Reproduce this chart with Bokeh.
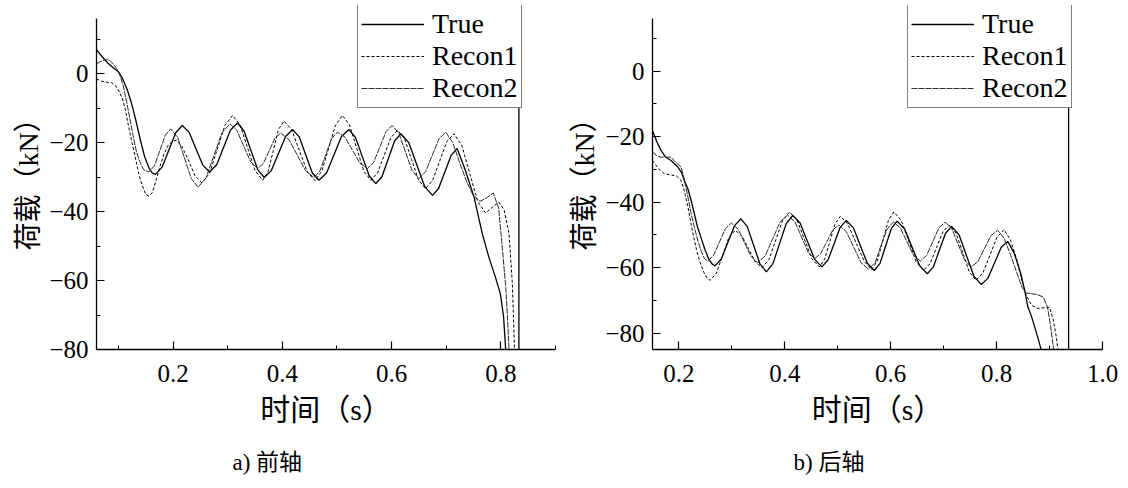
from bokeh.plotting import figure
from bokeh.layouts import row
from bokeh.models import (Range1d, SingleIntervalTicker, Legend, LegendItem, Title,
                          PrintfTickFormatter)
from bokeh.embed import file_html
from bokeh.resources import INLINE

SERIES_NAMES = ["True", "Recon1", "Recon2"]
X_LABEL = "时间（s）"
Y_LABEL = "荷载（kN）"
CAPTIONS = ["a) 前轴", "b) 后轴"]

# ---------------- a) front axle ----------------
front_true_t = [0.060, 0.070, 0.080, 0.090, 0.100, 0.108, 0.116, 0.124, 0.132, 0.140, 0.148, 0.156, 0.162, 0.168,
                0.180, 0.1925, 0.205, 0.217, 0.2295, 0.242, 0.2545, 0.267, 0.280, 0.2925, 0.305, 0.318,
                0.330, 0.3425, 0.355, 0.367, 0.380, 0.393, 0.406, 0.419, 0.431, 0.443, 0.455, 0.467,
                0.481, 0.4945, 0.508, 0.522, 0.534, 0.5465, 0.559, 0.571, 0.5825, 0.594, 0.6055, 0.617,
                0.6315, 0.646, 0.6605, 0.675, 0.686, 0.6975, 0.709, 0.720,
                0.735, 0.751, 0.766, 0.778, 0.790, 0.799, 0.805, 0.809, 0.812]
front_true = [7.0, 5.0, 3.2, 1.8, 0.6, -1.5, -4.5, -8.5, -13.5, -19.0, -24.0, -27.3, -28.8, -29.2,
              -27.1, -22.1, -17.1, -15.0, -17.0, -21.75, -26.5, -28.5, -26.4, -21.4, -16.4, -14.3,
              -16.6, -22.2, -27.8, -30.1, -28.1, -23.15, -18.2, -16.2, -18.3, -23.55, -28.8, -30.9,
              -28.8, -23.55, -18.3, -16.2, -18.5, -24.05, -29.6, -31.9, -29.8, -24.65, -19.5, -17.4,
              -20.0, -26.35, -32.7, -35.3, -33.3, -28.5, -23.7, -21.7,
              -28.0, -35.8, -46.4, -53.2, -59.0, -63.8, -70.5, -80.5, -100.0]

front_rec1_t = [0.060, 0.070, 0.080, 0.088, 0.095, 0.101, 0.107, 0.113, 0.119, 0.125, 0.132, 0.138, 0.144,
                0.150, 0.156, 0.162, 0.168, 0.175, 0.183, 0.192, 0.200, 0.206, 0.216, 0.228, 0.240, 0.253,
                0.267, 0.281, 0.295, 0.309, 0.3228, 0.3365, 0.3503, 0.364, 0.374, 0.3835, 0.393, 0.403,
                0.417, 0.4315, 0.446, 0.460, 0.4725, 0.485, 0.4975, 0.510, 0.523, 0.536, 0.549, 0.562,
                0.5743, 0.5865, 0.5988, 0.611, 0.6238, 0.6365, 0.6493, 0.662, 0.675, 0.688, 0.701, 0.714,
                0.7285, 0.743, 0.7575, 0.772, 0.784, 0.796, 0.806, 0.815, 0.821, 0.825, 0.828]
front_rec1 = [-1.5, -2.2, -2.5, -2.6, -3.5, -5.0, -7.0, -10.5, -15.5, -20.0, -25.0, -29.5, -32.5,
              -35.0, -35.5, -34.5, -31.5, -27.5, -23.5, -20.5, -19.6, -19.3, -21.0, -25.0, -29.5, -31.7,
              -28.8, -21.9, -15.0, -12.1, -14.85, -21.5, -28.15, -30.9, -28.4, -22.3, -16.2, -13.7,
              -16.2, -22.35, -28.5, -31.0, -28.2, -21.55, -14.9, -12.1, -14.85, -21.5, -28.15, -30.9,
              -28.8, -23.65, -18.5, -16.4, -18.9, -24.85, -30.8, -33.3, -31.0, -25.35, -19.7, -17.4,
              -20.8, -28.9, -37.0, -40.4, -38.8, -37.2, -39.5, -46.4, -60.9, -80.0, -100.0]

front_rec2_t = [0.060, 0.068, 0.076, 0.083, 0.090, 0.097, 0.103, 0.109, 0.115, 0.121, 0.127, 0.133, 0.139,
                0.146, 0.156, 0.166, 0.176, 0.186, 0.196, 0.2085, 0.221, 0.2335, 0.246,
                0.2605, 0.275, 0.2895, 0.304, 0.3168, 0.3295, 0.3423, 0.355, 0.3655, 0.376, 0.3865, 0.397,
                0.4123, 0.4275, 0.4428, 0.458, 0.4688, 0.4795, 0.4903, 0.501, 0.5148, 0.5285, 0.5423, 0.556,
                0.5673, 0.5785, 0.5898, 0.601, 0.6133, 0.6255, 0.6378, 0.650, 0.6623, 0.6745, 0.6868, 0.699,
                0.712, 0.725, 0.738, 0.750, 0.762, 0.774, 0.786, 0.796, 0.803, 0.809, 0.812, 0.815, 0.818]
front_rec2 = [2.9, 3.6, 4.1, 4.0, 3.0, 1.5, -0.5, -3.5, -8.0, -13.0, -18.0, -22.5, -25.5,
              -27.8, -28.5, -26.7, -22.25, -17.8, -16.0, -18.5, -24.45, -30.4, -32.9,
              -30.2, -23.7, -17.2, -14.5, -16.4, -21.0, -25.6, -27.5, -26.0, -22.35, -18.7, -17.2,
              -19.1, -23.65, -28.2, -30.1, -28.2, -23.5, -18.8, -16.9, -18.4, -22.2, -26.0, -27.5,
              -25.7, -21.25, -16.8, -15.0, -17.25, -22.7, -28.15, -30.4, -28.4, -23.65, -18.9, -16.9,
              -20.0, -26.0, -31.5, -35.5, -37.0, -36.0, -34.6, -39.0, -51.2, -62.0, -70.5, -80.0, -100.0]

front_end_t = 0.833

# ---------------- b) rear axle ----------------
rear_true_t = [0.150, 0.158, 0.166, 0.175, 0.185, 0.198, 0.205, 0.210, 0.217, 0.223, 0.229, 0.235, 0.242,
               0.249, 0.256, 0.262, 0.268, 0.280, 0.2925, 0.305, 0.317, 0.329, 0.341, 0.353, 0.365,
               0.3775, 0.390, 0.4025, 0.415, 0.4288, 0.4425, 0.4563, 0.470, 0.4815, 0.493, 0.5045, 0.516,
               0.5293, 0.5425, 0.5558, 0.569, 0.5798, 0.5905, 0.6013, 0.612, 0.6263, 0.6405, 0.6548, 0.669,
               0.6805, 0.692, 0.7035, 0.715, 0.729, 0.743, 0.757, 0.771, 0.7835, 0.796, 0.8085, 0.821,
               0.833, 0.845, 0.853, 0.859, 0.866, 0.872, 0.878, 0.884, 0.890]
rear_true = [-18.1, -21.5, -24.2, -26.3, -27.3, -29.3, -31.0, -33.4, -36.0, -39.5, -43.5, -47.6, -51.0,
             -54.5, -57.3, -58.8, -59.5, -57.4, -52.3, -47.2, -45.1, -47.5, -53.2, -58.9, -61.3,
             -58.8, -52.7, -46.6, -44.1, -46.4, -51.95, -57.5, -59.8, -57.7, -52.7, -47.7, -45.6,
             -47.8, -53.25, -58.7, -60.9, -58.7, -53.35, -48.0, -45.8, -48.2, -53.85, -59.5, -61.9,
             -59.8, -54.65, -49.5, -47.4, -50.0, -56.3, -62.6, -65.2, -63.3, -58.6, -53.9, -52.0,
             -55.5, -61.5, -67.0, -72.0, -75.0, -78.2, -81.5, -85.0, -95.0]

rear_rec1_t = [0.150, 0.160, 0.172, 0.185, 0.195, 0.204, 0.210, 0.217, 0.222, 0.227, 0.233, 0.240, 0.247,
               0.253, 0.259, 0.2708, 0.2825, 0.2943, 0.306, 0.3188, 0.3315, 0.3443, 0.357,
               0.370, 0.383, 0.396, 0.409, 0.423, 0.437, 0.451, 0.465, 0.475, 0.485, 0.495, 0.505,
               0.5188, 0.5345, 0.5503, 0.564, 0.5745, 0.585, 0.5955, 0.606, 0.620, 0.634, 0.648, 0.662,
               0.6743, 0.6865, 0.6988, 0.711, 0.7235, 0.736, 0.7485, 0.761, 0.7743, 0.7875, 0.8008, 0.814,
               0.826, 0.838, 0.848, 0.856, 0.866, 0.878, 0.890, 0.900, 0.907, 0.912, 0.916, 0.920]
rear_rec1 = [-27.3, -29.5, -31.3, -31.7, -32.0, -33.4, -36.5, -41.5, -46.0, -50.0, -54.5, -58.5, -61.5,
             -63.3, -63.9, -61.7, -56.25, -50.8, -48.6, -50.3, -54.3, -58.3, -60.0,
             -57.5, -51.5, -45.5, -43.0, -45.5, -51.4, -57.3, -59.8, -57.5, -52.05, -46.6, -44.3,
             -46.7, -52.45, -58.2, -60.6, -58.0, -51.8, -45.6, -43.0, -45.6, -51.9, -58.2, -60.8,
             -58.8, -53.9, -49.0, -47.0, -49.5, -55.45, -61.4, -63.9, -61.6, -56.15, -50.7, -48.4,
             -51.5, -57.5, -64.0, -68.5, -71.5, -72.5, -72.3, -72.1, -76.0, -80.5, -85.0, -95.0]

rear_rec2_t = [0.150, 0.158, 0.166, 0.175, 0.185, 0.195, 0.204, 0.210, 0.217, 0.223, 0.229, 0.236, 0.242,
               0.248, 0.254, 0.2653, 0.2765, 0.2878, 0.299, 0.3115, 0.324, 0.3365, 0.349,
               0.363, 0.377, 0.391, 0.405, 0.4188, 0.4315, 0.4443, 0.456, 0.4675, 0.479, 0.4905, 0.502,
               0.516, 0.530, 0.544, 0.558, 0.5708, 0.5815, 0.5933, 0.605, 0.6178, 0.6305, 0.6433, 0.656,
               0.6678, 0.6795, 0.6913, 0.703, 0.7153, 0.7275, 0.7398, 0.752, 0.7645, 0.777, 0.7895, 0.802,
               0.814, 0.826, 0.838, 0.848, 0.856, 0.866, 0.876, 0.888, 0.896, 0.902, 0.907, 0.911]
rear_rec2 = [-24.7, -25.8, -26.3, -26.2, -26.3, -28.0, -29.3, -33.0, -38.5, -43.5, -47.6, -52.0, -55.0,
             -57.2, -58.0, -56.3, -52.2, -48.1, -46.4, -48.2, -52.45, -56.7, -58.5,
             -56.4, -51.25, -46.1, -44.0, -45.9, -50.65, -55.4, -57.3, -55.8, -52.15, -48.5, -47.0,
             -49.0, -53.75, -58.5, -60.5, -58.4, -53.3, -48.2, -46.1, -47.8, -52.05, -56.3, -58.0,
             -56.3, -52.05, -47.8, -46.1, -48.1, -52.95, -57.8, -59.8, -58.2, -54.2, -50.2, -48.6,
             -51.0, -56.0, -61.5, -66.0, -67.8, -68.0, -68.2, -69.0, -72.0, -78.0, -84.3, -95.0]

rear_end_t = 0.936

# visible ranges (frame reaches up to the legend) and drawn axis extents
front_x_range = (0.06, 0.90)
front_y_range = (-80, 19.8)
front_y_axis = (-80, 16)
rear_x_range = (0.15, 1.0)
rear_y_range = (-85.04, 20.08)
rear_y_axis = (-85.04, 16)

SERIF = "Liberation Serif"
MIXED = "Liberation Serif, Noto Sans CJK SC"

STYLES = {
    "True": dict(line_color="black", line_width=1.3),
    "Recon1": dict(line_color="black", line_width=1.0, line_dash="3 2"),
    "Recon2": dict(line_color="#2a2a2a", line_width=1.0, line_dash="6 1"),
}


def make_panel(ts, vs, xr, yr, yaxis_bounds, end_t, caption, legend_xy, caption_offset, bl, fw, br):
    p = figure(frame_width=fw, frame_height=344,
               min_border_left=bl, min_border_right=br, min_border_top=5, min_border_bottom=20,
               x_range=Range1d(*xr), y_range=Range1d(*yr),
               output_backend="svg", toolbar_location=None,
               background_fill_color="white", border_fill_color="white")
    p.outline_line_color = None
    p.grid.visible = False

    items = []
    for name, t, v in zip(SERIES_NAMES, ts, vs):
        r = p.line(t, v, **STYLES[name])
        items.append(LegendItem(label=name, renderers=[r]))
    p.line([end_t, end_t], [yr[0], yr[1]], **STYLES["True"])

    p.xaxis.ticker = SingleIntervalTicker(interval=0.2, num_minor_ticks=2)
    p.xaxis.formatter = PrintfTickFormatter(format="%.1f")
    p.yaxis.ticker = SingleIntervalTicker(interval=20, num_minor_ticks=2)
    p.yaxis.bounds = yaxis_bounds
    p.xaxis.axis_label = X_LABEL
    p.yaxis.axis_label = Y_LABEL
    for ax in (p.xaxis[0], p.yaxis[0]):
        ax.axis_line_color = "black"
        ax.axis_line_width = 1.3
        ax.major_tick_line_color = "black"
        ax.minor_tick_line_color = "black"
        ax.major_tick_line_width = 1.2
        ax.minor_tick_line_width = 1.0
        ax.major_tick_in = 8
        ax.major_tick_out = 0
        ax.minor_tick_in = 4
        ax.minor_tick_out = 0
        ax.major_label_text_font = SERIF
        ax.major_label_text_font_size = "25px"
        ax.major_label_text_color = "black"
        ax.axis_label_text_font = MIXED
        ax.axis_label_text_font_style = "normal"
        ax.axis_label_text_color = "black"
    p.xaxis.axis_label_text_font_size = "30px"
    p.yaxis.axis_label_text_font_size = "28px"
    p.xaxis.major_label_standoff = 15
    p.xaxis.axis_label_standoff = 8
    p.yaxis.major_label_standoff = 8
    p.yaxis.axis_label_standoff = 2

    leg = Legend(items=items, location=legend_xy,
                 border_line_color="black", border_line_width=1,
                 background_fill_color="white", background_fill_alpha=1.0,
                 label_text_font=SERIF, label_text_font_size="28px", label_text_color="black",
                 glyph_width=63, glyph_height=30, label_height=30, label_standoff=8,
                 spacing=0, padding=3, margin=0)
    p.add_layout(leg)

    p.add_layout(Title(text=caption, align="left", offset=caption_offset, standoff=38,
                       text_font=MIXED, text_font_size="23px", text_font_style="normal",
                       text_color="black"), "below")
    return p


p1 = make_panel([front_true_t, front_rec1_t, front_rec2_t], [front_true, front_rec1, front_rec2],
                front_x_range, front_y_range, front_y_axis, front_end_t, CAPTIONS[0],
                (261, 241), 136, 96, 459, 9)
p2 = make_panel([rear_true_t, rear_rec1_t, rear_rec2_t], [rear_true, rear_rec1, rear_rec2],
                rear_x_range, rear_y_range, rear_y_axis, rear_end_t, CAPTIONS[1],
                (255, 241), 141, 88, 450, 26)

layout = row(p1, p2)
open("out.html", "w").write(file_html(layout, INLINE))
